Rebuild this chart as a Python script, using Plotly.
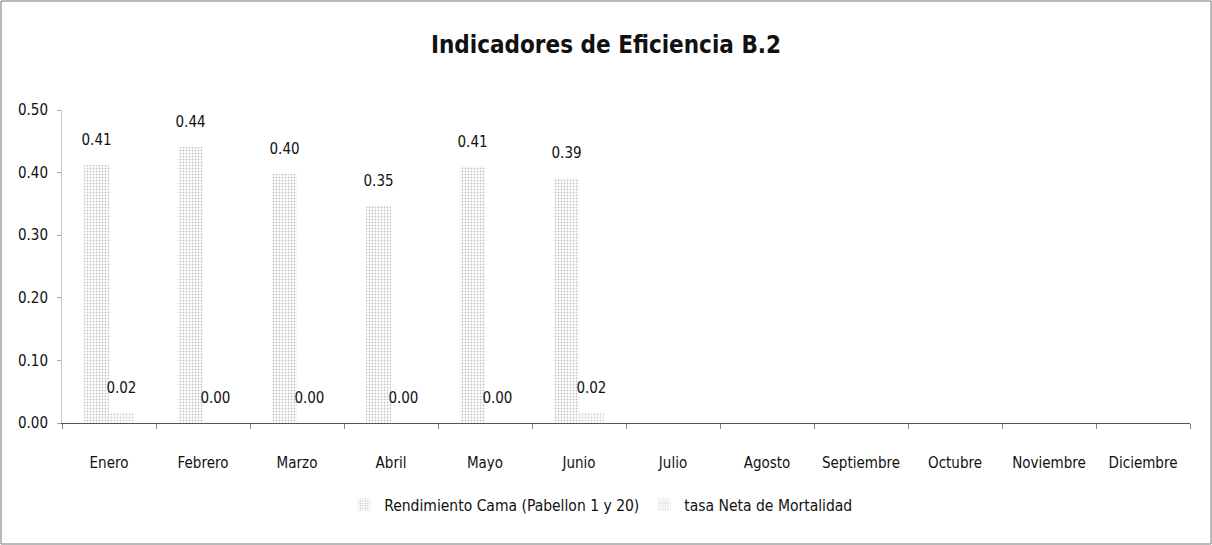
import plotly.graph_objects as go

months = ["Enero", "Febrero", "Marzo", "Abril", "Mayo", "Junio", "Julio",
          "Agosto", "Septiembre", "Octubre", "Noviembre", "Diciembre"]
rendimiento = [0.412, 0.441, 0.398, 0.347, 0.410, 0.391, None, None, None, None, None, None]
tasa = [0.017, 0.0, 0.0, 0.0, 0.0, 0.017, None, None, None, None, None, None]
y_ticks = [0.0, 0.1, 0.2, 0.3, 0.4, 0.5]
series = [("Rendimiento Cama (Pabellon 1 y 20)", rendimiento, "#8a8a8a", "r"),
          ("tasa Neta de Mortalidad", tasa, "#a0a0a0", "t")]

FONT = "Liberation Sans Narrow, DejaVu Sans Condensed, Arial Narrow, sans-serif"

def stipple(fg):
    return dict(color="white", line=dict(width=0),
                pattern=dict(shape=".", fgcolor=fg, bgcolor="white", size=3, solidity=0.3))

fig = go.Figure()
for name, vals, fg, grp in series:
    fig.add_trace(go.Bar(
        name=name, x=months, y=vals, marker=stipple(fg),
        offsetgroup=grp, alignmentgroup="g",
    ))
for name, vals, fg, grp in series:
    fig.add_trace(go.Scatter(
        x=months, y=vals, mode="text+markers", showlegend=False,
        marker=dict(size=24, opacity=0), offsetgroup=grp, alignmentgroup="g",
        text=[None if v is None else f"{v:.2f}" for v in vals],
        textposition="top center", cliponaxis=False, hoverinfo="skip",
        textfont=dict(family=FONT, size=15, color="#111"),
    ))

W, H = 1212, 545
ml, mr, mt, mb = 62, 22, 110, 122
pw, ph = W - ml - mr, H - mt - mb

fig.update_layout(
    width=W, height=H,
    margin=dict(l=ml, r=mr, t=mt, b=mb, pad=0, autoexpand=False),
    paper_bgcolor="white", plot_bgcolor="white",
    barmode="group", bargap=0.47, bargroupgap=0.0,
    scattermode="group", scattergap=0.47,
    title=dict(text="<b>Indicadores de Eficiencia B.2</b>", x=0.5, xanchor="center",
               y=1 - 45 / H, yanchor="middle",
               font=dict(family=FONT, size=24, color="#111")),
    font=dict(family=FONT, size=15, color="#111"),
    showlegend=True,
    legend=dict(orientation="h", x=0.478, xanchor="center", y=-82 / ph, yanchor="middle",
                font=dict(family=FONT, size=15.5, color="#111"), itemwidth=30,
                bgcolor="rgba(0,0,0,0)"),
    xaxis=dict(showgrid=False, showline=True, linecolor="#555", linewidth=1,
               ticks="outside", ticklen=5, tickcolor="#888", tickson="boundaries",
               automargin=False, ticklabelstandoff=26,
               tickfont=dict(family=FONT, size=15, color="#111")),
    yaxis=dict(range=[0, 0.5], tickvals=y_ticks, tickformat=".2f", showgrid=False,
               showline=True, linecolor="#c8c8c8", linewidth=1, zeroline=False,
               ticks="outside", ticklen=4, tickcolor="#aaa",
               automargin=False, ticklabelstandoff=6,
               tickfont=dict(family=FONT, size=15, color="#111")),
    shapes=[dict(type="rect", xref="paper", yref="paper",
                 x0=-(ml - 1) / pw, x1=1 + (mr - 1) / pw,
                 y0=-(mb - 1) / ph, y1=1 + (mt - 1) / ph,
                 line=dict(color="#777", width=1))],
)

fig.write_html("out.html", config={"displayModeBar": False},
               post_script="document.body.style.margin='0px';")
